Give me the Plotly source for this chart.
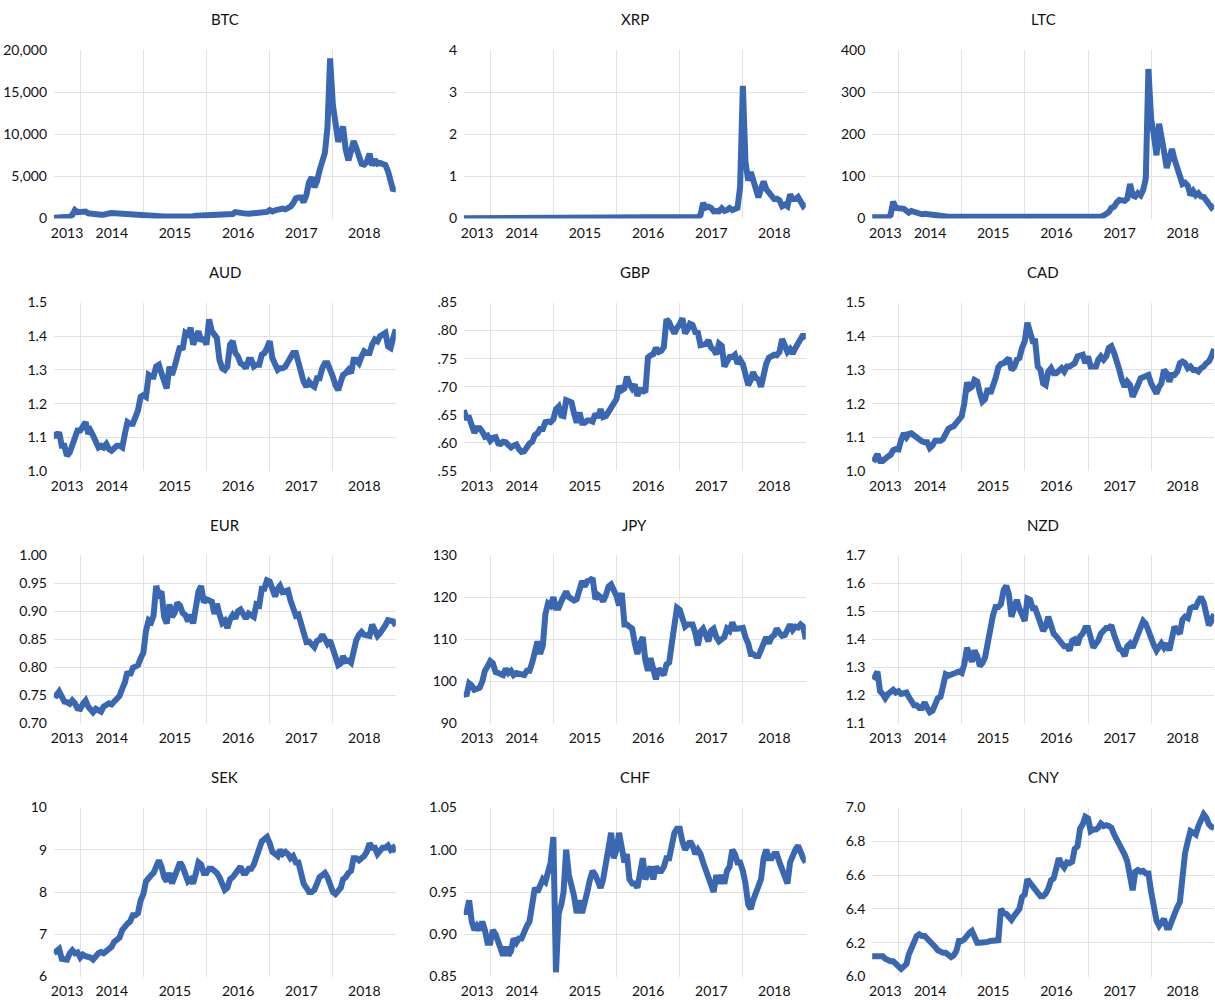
import pandas as pd
import plotly.graph_objects as go

FONT = "Lato, sans-serif"
TEXT = "#111111"
LINE_COLOR = "#3A67B1"
GRID_COLOR = "#E2E2E2"
W, H = 1215, 1000

# Semi-monthly observation dates, Aug 2013 .. Dec 2018
DATES = []
for year in range(2013, 2019):
    for month in range(1, 13):
        if year == 2013 and month < 8:
            continue
        for day in (1, 16):
            DATES.append(f"{year}-{month:02d}-{day:02d}")
DATES.append("2018-12-31")

X_START, X_END = "2013-08-01", "2018-12-31"
YEAR_LABELS = ["2013", "2014", "2015", "2016", "2017", "2018"]

BTC = [95, 100, 130, 125, 125, 150, 200, 420, 1000, 750,
       800, 850, 820, 620, 560, 620, 470, 520, 450, 450, 620, 600, 640, 620, 590, 500, 480, 470, 380, 390, 330, 390, 380, 330,
       315, 210, 225, 235, 255, 285, 245, 225, 235, 237, 225, 250, 260, 280, 280, 260, 230, 230, 237, 265, 320, 330, 360, 450,
       430, 380, 375, 405, 435, 415, 415, 430, 450, 455, 535, 760, 675, 665, 610, 580, 575, 610, 615, 640, 730, 745, 750, 780,
       1000, 830, 980, 1040, 1200, 1170, 1080, 1180, 1420, 1800, 2400, 2500, 2500, 1930, 2800, 4300, 4900, 3700, 4400, 5700, 6700, 7800, 10900, 19000,
       13500, 11300, 9100, 10200, 10900, 8200, 6900, 8000, 9200, 8400, 7500, 6500, 6400, 6700, 7700, 6300, 7000, 6500, 6600, 6500, 6350, 5600, 4100, 3300, 3750]

XRP = [0.006, 0.006, 0.005, 0.005, 0.005, 0.006, 0.007, 0.012, 0.030, 0.025,
       0.025, 0.024, 0.020, 0.020, 0.016, 0.015, 0.010, 0.007, 0.006, 0.006, 0.006, 0.006, 0.006, 0.005, 0.005, 0.005, 0.005, 0.005, 0.005, 0.005, 0.005, 0.010, 0.015, 0.025,
       0.024, 0.020, 0.016, 0.014, 0.013, 0.010, 0.010, 0.009, 0.008, 0.008, 0.008, 0.010, 0.010, 0.009, 0.008, 0.007, 0.007, 0.007, 0.007, 0.005, 0.004, 0.004, 0.006, 0.006,
       0.006, 0.006, 0.008, 0.008, 0.008, 0.008, 0.008, 0.008, 0.006, 0.006, 0.006, 0.006, 0.006, 0.006, 0.006, 0.006, 0.006, 0.006, 0.007, 0.008, 0.009, 0.007, 0.007, 0.006,
       0.0065, 0.0065, 0.0065, 0.0065, 0.006, 0.008, 0.030, 0.035, 0.080, 0.370, 0.260, 0.280, 0.250, 0.170, 0.180, 0.170, 0.240, 0.180, 0.200, 0.250, 0.200, 0.220, 0.250, 0.750,
       3.150, 1.350, 0.900, 1.100, 0.900, 0.700, 0.500, 0.700, 0.880, 0.700, 0.620, 0.520, 0.460, 0.470, 0.430, 0.290, 0.330, 0.290, 0.570, 0.460, 0.460, 0.510, 0.380, 0.300, 0.360]

LTC = [3.0, 2.9, 2.6, 2.5, 2.3, 2.3, 2.9, 8.0, 40.0, 25.0,
       24.0, 26.0, 23.0, 18.0, 14.0, 18.0, 15.0, 12.0, 11.0, 10.0, 11.0, 10.0, 8.0, 7.5, 7.5, 6.0, 5.0, 4.8, 3.8, 4.0, 4.0, 4.0, 4.2, 3.5,
       2.7, 1.8, 1.8, 1.8, 1.8, 2.2, 1.6, 1.4, 1.4, 1.5, 1.5, 1.8, 3.5, 4.5, 4.0, 3.0, 2.8, 2.9, 2.9, 3.1, 3.7, 3.2, 3.3, 3.5,
       3.5, 3.5, 3.2, 3.3, 3.2, 3.3, 3.2, 3.1, 3.6, 3.5, 4.6, 4.3, 4.2, 4.1, 4.0, 3.8, 3.8, 3.9, 3.8, 3.9, 3.9, 3.9, 3.9, 3.9,
       4.3, 3.9, 3.9, 3.8, 3.8, 4.0, 7.0, 11.0, 15.0, 25.0, 28.0, 38.0, 44.0, 43.0, 42.0, 47.0, 82.0, 55.0, 52.0, 60.0, 55.0, 68.0, 95.0, 355.0,
       235, 200, 150, 225, 200, 160, 120, 140, 165, 140, 120, 95, 82, 85, 78, 55, 65, 55, 60, 52, 51, 43, 33, 26, 32]

AUD = [1.115, 1.100, 1.115, 1.075, 1.075, 1.045, 1.055, 1.075, 1.095, 1.120,
       1.120, 1.135, 1.145, 1.110, 1.120, 1.105, 1.080, 1.070, 1.075, 1.070, 1.080, 1.065, 1.060, 1.070, 1.075, 1.075, 1.070, 1.110, 1.145, 1.140, 1.140, 1.160, 1.180, 1.220,
       1.225, 1.220, 1.285, 1.280, 1.280, 1.310, 1.315, 1.290, 1.260, 1.245, 1.310, 1.285, 1.310, 1.350, 1.370, 1.360, 1.410, 1.405, 1.425, 1.375, 1.400, 1.415, 1.385, 1.395,
       1.375, 1.450, 1.415, 1.400, 1.395, 1.330, 1.305, 1.300, 1.310, 1.375, 1.385, 1.350, 1.340, 1.320, 1.315, 1.305, 1.330, 1.330, 1.310, 1.315, 1.315, 1.345, 1.350, 1.365,
       1.385, 1.335, 1.315, 1.300, 1.305, 1.305, 1.310, 1.325, 1.335, 1.350, 1.350, 1.315, 1.300, 1.265, 1.250, 1.265, 1.255, 1.250, 1.275, 1.275, 1.305, 1.320, 1.320, 1.305,
       1.280, 1.255, 1.240, 1.265, 1.285, 1.290, 1.300, 1.290, 1.330, 1.330, 1.320, 1.340, 1.355, 1.350, 1.350, 1.375, 1.390, 1.385, 1.400, 1.405, 1.410, 1.370, 1.365, 1.395, 1.420]

GBP = [0.658, 0.645, 0.645, 0.628, 0.618, 0.626, 0.626, 0.620, 0.611, 0.613,
       0.604, 0.609, 0.610, 0.599, 0.598, 0.602, 0.601, 0.596, 0.592, 0.595, 0.597, 0.589, 0.584, 0.585, 0.593, 0.599, 0.602, 0.614, 0.617, 0.625, 0.625, 0.637, 0.638, 0.637,
       0.642, 0.660, 0.665, 0.649, 0.648, 0.676, 0.674, 0.672, 0.652, 0.636, 0.654, 0.636, 0.636, 0.640, 0.640, 0.638, 0.652, 0.645, 0.660, 0.646, 0.648, 0.656, 0.664, 0.670,
       0.678, 0.701, 0.694, 0.697, 0.718, 0.705, 0.697, 0.704, 0.684, 0.694, 0.694, 0.690, 0.752, 0.756, 0.758, 0.769, 0.762, 0.764, 0.771, 0.820, 0.815, 0.804, 0.795, 0.805,
       0.811, 0.822, 0.795, 0.802, 0.812, 0.810, 0.797, 0.796, 0.774, 0.775, 0.776, 0.783, 0.770, 0.766, 0.758, 0.777, 0.773, 0.736, 0.746, 0.753, 0.753, 0.757, 0.741, 0.748,
       0.740, 0.725, 0.703, 0.712, 0.726, 0.716, 0.713, 0.700, 0.726, 0.741, 0.752, 0.754, 0.757, 0.756, 0.762, 0.785, 0.771, 0.762, 0.767, 0.759, 0.769, 0.779, 0.784, 0.793, 0.785]

CAD = [1.040, 1.035, 1.050, 1.030, 1.030, 1.038, 1.043, 1.048, 1.062, 1.065,
       1.064, 1.092, 1.112, 1.100, 1.110, 1.112, 1.105, 1.100, 1.095, 1.088, 1.085, 1.085, 1.068, 1.075, 1.090, 1.088, 1.090, 1.095, 1.115, 1.125, 1.130, 1.133, 1.143, 1.155,
       1.162, 1.200, 1.263, 1.245, 1.250, 1.270, 1.265, 1.232, 1.206, 1.213, 1.245, 1.230, 1.248, 1.275, 1.308, 1.318, 1.320, 1.330, 1.335, 1.300, 1.308, 1.330, 1.335, 1.365,
       1.385, 1.440, 1.410, 1.385, 1.385, 1.310, 1.300, 1.260, 1.255, 1.295, 1.305, 1.290, 1.290, 1.300, 1.305, 1.295, 1.310, 1.310, 1.315, 1.320, 1.340, 1.345, 1.345, 1.320,
       1.340, 1.310, 1.310, 1.310, 1.330, 1.340, 1.330, 1.340, 1.365, 1.370, 1.350, 1.330, 1.300, 1.270, 1.250, 1.265, 1.255, 1.220, 1.245, 1.255, 1.275, 1.280, 1.285, 1.285,
       1.260, 1.245, 1.230, 1.250, 1.260, 1.300, 1.290, 1.265, 1.285, 1.285, 1.295, 1.320, 1.325, 1.320, 1.305, 1.310, 1.300, 1.300, 1.295, 1.305, 1.310, 1.320, 1.325, 1.340, 1.362]

EUR = [0.752, 0.750, 0.757, 0.749, 0.739, 0.738, 0.735, 0.741, 0.736, 0.727,
       0.726, 0.735, 0.741, 0.730, 0.724, 0.720, 0.726, 0.723, 0.721, 0.730, 0.734, 0.736, 0.734, 0.740, 0.746, 0.749, 0.762, 0.773, 0.792, 0.786, 0.799, 0.803, 0.804, 0.816,
       0.826, 0.865, 0.884, 0.881, 0.892, 0.945, 0.930, 0.935, 0.890, 0.878, 0.912, 0.890, 0.897, 0.915, 0.910, 0.897, 0.893, 0.882, 0.894, 0.878, 0.907, 0.935, 0.945, 0.916,
       0.921, 0.918, 0.917, 0.895, 0.913, 0.895, 0.879, 0.883, 0.870, 0.885, 0.893, 0.887, 0.900, 0.903, 0.895, 0.887, 0.896, 0.892, 0.890, 0.912, 0.910, 0.940, 0.940, 0.955,
       0.953, 0.940, 0.926, 0.940, 0.945, 0.934, 0.937, 0.937, 0.919, 0.905, 0.892, 0.894, 0.876, 0.867, 0.845, 0.846, 0.840, 0.836, 0.847, 0.849, 0.858, 0.848, 0.842, 0.848,
       0.834, 0.817, 0.804, 0.807, 0.820, 0.811, 0.812, 0.808, 0.829, 0.848, 0.858, 0.863, 0.858, 0.857, 0.856, 0.876, 0.863, 0.856, 0.861, 0.866, 0.875, 0.884, 0.883, 0.882, 0.874]

JPY = [97.5, 96.5, 99.5, 99.0, 98.0, 98.3, 98.5, 100.0, 102.5, 103.5,
       104.8, 104.3, 102.2, 102.0, 101.7, 101.5, 103.0, 102.0, 102.5, 101.5, 102.0, 101.8, 101.5, 101.5, 102.5, 102.5, 104.5, 107.5, 109.5, 106.5, 108.5, 116.0, 118.5, 118.0,
       120.0, 117.5, 117.5, 119.0, 119.8, 121.3, 120.0, 119.5, 119.2, 119.5, 121.5, 123.8, 122.5, 123.8, 124.0, 124.5, 119.5, 120.5, 120.0, 119.0, 120.5, 122.5, 123.0, 121.8,
       120.3, 118.0, 121.0, 113.5, 113.5, 113.0, 112.5, 109.0, 106.5, 109.0, 110.5, 105.0, 102.5, 105.5, 102.5, 100.5, 103.0, 102.0, 101.5, 104.0, 104.5, 109.0, 113.5, 117.5,
       117.0, 114.5, 113.0, 113.5, 113.5, 113.5, 111.5, 108.5, 111.8, 112.5, 111.0, 109.5, 112.0, 112.5, 110.5, 109.5, 110.0, 110.5, 112.5, 112.0, 114.0, 112.5, 112.5, 112.5,
       112.7, 110.5, 109.0, 106.5, 106.5, 106.0, 106.0, 107.5, 109.5, 110.5, 109.0, 110.5, 111.0, 112.5, 111.5, 110.8, 111.0, 112.0, 113.5, 112.2, 113.0, 112.8, 113.5, 113.0, 110.0]

NZD = [1.270, 1.265, 1.285, 1.215, 1.205, 1.190, 1.205, 1.215, 1.220, 1.210,
       1.215, 1.205, 1.210, 1.210, 1.195, 1.175, 1.165, 1.165, 1.155, 1.155, 1.175, 1.155, 1.140, 1.145, 1.175, 1.190, 1.195, 1.240, 1.275, 1.270, 1.275, 1.280, 1.285, 1.285,
       1.280, 1.310, 1.370, 1.335, 1.320, 1.360, 1.340, 1.305, 1.315, 1.335, 1.395, 1.425, 1.485, 1.515, 1.515, 1.525, 1.575, 1.590, 1.560, 1.480, 1.520, 1.540, 1.510, 1.490,
       1.465, 1.545, 1.540, 1.510, 1.510, 1.485, 1.450, 1.430, 1.445, 1.480, 1.450, 1.420, 1.410, 1.400, 1.390, 1.375, 1.375, 1.360, 1.395, 1.400, 1.380, 1.410, 1.420, 1.440,
       1.440, 1.400, 1.370, 1.385, 1.395, 1.420, 1.430, 1.440, 1.440, 1.450, 1.415, 1.380, 1.365, 1.360, 1.340, 1.375, 1.385, 1.370, 1.395, 1.420, 1.450, 1.465, 1.455, 1.425,
       1.410, 1.380, 1.360, 1.370, 1.385, 1.370, 1.385, 1.360, 1.410, 1.445, 1.430, 1.420, 1.470, 1.480, 1.475, 1.510, 1.515, 1.515, 1.535, 1.550, 1.530, 1.475, 1.450, 1.465, 1.490]

SEK = [6.55, 6.60, 6.65, 6.42, 6.42, 6.40, 6.55, 6.62, 6.55, 6.57,
       6.45, 6.52, 6.48, 6.48, 6.45, 6.40, 6.50, 6.55, 6.58, 6.55, 6.60, 6.65, 6.70, 6.82, 6.88, 6.92, 7.10, 7.20, 7.25, 7.30, 7.45, 7.45, 7.50, 7.80,
       7.95, 8.25, 8.35, 8.40, 8.45, 8.65, 8.75, 8.60, 8.35, 8.25, 8.45, 8.20, 8.40, 8.55, 8.70, 8.60, 8.35, 8.25, 8.30, 8.20, 8.45, 8.70, 8.65, 8.45,
       8.45, 8.55, 8.55, 8.50, 8.45, 8.35, 8.15, 8.05, 8.10, 8.30, 8.35, 8.45, 8.50, 8.60, 8.45, 8.45, 8.55, 8.55, 8.65, 8.80, 9.05, 9.20, 9.25, 9.30,
       9.15, 8.95, 8.90, 8.85, 9.00, 8.90, 8.95, 8.90, 8.80, 8.85, 8.70, 8.70, 8.45, 8.20, 8.10, 8.00, 8.00, 8.05, 8.20, 8.35, 8.40, 8.45, 8.35, 8.20,
       8.00, 7.95, 8.05, 8.10, 8.30, 8.35, 8.45, 8.50, 8.80, 8.80, 8.75, 8.80, 8.85, 8.95, 9.15, 9.05, 9.05, 8.90, 9.00, 9.05, 9.05, 9.10, 9.00, 9.05, 8.95]

CHF = [0.928, 0.925, 0.940, 0.915, 0.905, 0.910, 0.905, 0.915, 0.905, 0.890,
       0.890, 0.905, 0.900, 0.890, 0.880, 0.875, 0.885, 0.875, 0.880, 0.895, 0.890, 0.895, 0.895, 0.905, 0.910, 0.915, 0.935, 0.955, 0.950, 0.960, 0.965, 0.962, 0.975, 0.985,
       1.015, 0.855, 0.925, 0.935, 0.950, 1.000, 0.970, 0.960, 0.945, 0.925, 0.940, 0.925, 0.935, 0.950, 0.965, 0.975, 0.970, 0.960, 0.955, 0.965, 0.985, 1.010, 1.020, 0.990,
       1.000, 1.020, 0.995, 0.985, 0.995, 0.965, 0.960, 0.960, 0.955, 0.975, 0.990, 0.965, 0.975, 0.980, 0.965, 0.980, 0.975, 0.975, 0.980, 0.990, 0.990, 1.005, 1.020, 1.025,
       1.025, 1.010, 1.000, 1.005, 1.010, 1.005, 0.995, 1.000, 0.995, 0.985, 0.975, 0.965, 0.960, 0.950, 0.970, 0.960, 0.970, 0.960, 0.975, 0.980, 1.000, 0.995, 0.985, 0.985,
       0.975, 0.960, 0.935, 0.930, 0.940, 0.950, 0.955, 0.965, 0.990, 1.000, 0.990, 0.990, 0.995, 0.995, 0.985, 0.975, 0.970, 0.960, 0.985, 0.995, 1.000, 1.005, 0.995, 0.990, 0.985]

CNY = [6.120, 6.120, 6.120, 6.120, 6.120, 6.105, 6.095, 6.090, 6.090, 6.075,
       6.055, 6.045, 6.060, 6.075, 6.130, 6.170, 6.220, 6.240, 6.250, 6.240, 6.240, 6.225, 6.205, 6.200, 6.175, 6.155, 6.145, 6.140, 6.140, 6.125, 6.115, 6.125, 6.150, 6.210,
       6.210, 6.220, 6.250, 6.260, 6.270, 6.230, 6.200, 6.200, 6.200, 6.200, 6.205, 6.210, 6.210, 6.210, 6.215, 6.400, 6.375, 6.370, 6.355, 6.335, 6.360, 6.385, 6.400, 6.470,
       6.485, 6.575, 6.555, 6.530, 6.510, 6.500, 6.475, 6.475, 6.490, 6.520, 6.570, 6.580, 6.630, 6.700, 6.665, 6.645, 6.675, 6.670, 6.680, 6.755, 6.770, 6.875, 6.900, 6.945,
       6.935, 6.860, 6.870, 6.870, 6.880, 6.905, 6.890, 6.895, 6.890, 6.880, 6.840, 6.810, 6.790, 6.765, 6.720, 6.680, 6.580, 6.510, 6.620, 6.630, 6.620, 6.625, 6.610, 6.610,
       6.500, 6.410, 6.330, 6.300, 6.320, 6.340, 6.290, 6.290, 6.330, 6.380, 6.410, 6.440, 6.640, 6.730, 6.800, 6.860, 6.850, 6.840, 6.890, 6.920, 6.960, 6.940, 6.900, 6.885, 6.880]

# (title, series, y tick values, y tick labels)
PANELS = [
    ("BTC", BTC, [0, 5000, 10000, 15000, 20000], ["0", "5,000", "10,000", "15,000", "20,000"]),
    ("XRP", XRP, [0, 1, 2, 3, 4], ["0", "1", "2", "3", "4"]),
    ("LTC", LTC, [0, 100, 200, 300, 400], ["0", "100", "200", "300", "400"]),
    ("AUD", AUD, [1.0, 1.1, 1.2, 1.3, 1.4, 1.5], ["1.0", "1.1", "1.2", "1.3", "1.4", "1.5"]),
    ("GBP", GBP, [0.55, 0.60, 0.65, 0.70, 0.75, 0.80, 0.85], [".55", ".60", ".65", ".70", ".75", ".80", ".85"]),
    ("CAD", CAD, [1.0, 1.1, 1.2, 1.3, 1.4, 1.5], ["1.0", "1.1", "1.2", "1.3", "1.4", "1.5"]),
    ("EUR", EUR, [0.70, 0.75, 0.80, 0.85, 0.90, 0.95, 1.00], ["0.70", "0.75", "0.80", "0.85", "0.90", "0.95", "1.00"]),
    ("JPY", JPY, [90, 100, 110, 120, 130], ["90", "100", "110", "120", "130"]),
    ("NZD", NZD, [1.1, 1.2, 1.3, 1.4, 1.5, 1.6, 1.7], ["1.1", "1.2", "1.3", "1.4", "1.5", "1.6", "1.7"]),
    ("SEK", SEK, [6, 7, 8, 9, 10], ["6", "7", "8", "9", "10"]),
    ("CHF", CHF, [0.85, 0.90, 0.95, 1.00, 1.05], ["0.85", "0.90", "0.95", "1.00", "1.05"]),
    ("CNY", CNY, [6.0, 6.2, 6.4, 6.6, 6.8, 7.0], ["6.0", "6.2", "6.4", "6.6", "6.8", "7.0"]),
]

# plot-area pixel boxes for the 3 x 4 grid
COL_X = [(53.8, 395.8), (463.8, 805.8), (872.1, 1214.1)]
ROW_Y = [(50.0, 218.5), (302.5, 471.0), (555.0, 723.5), (807.5, 976.5)]

# year labels sit in the middle of the visible part of each year
t0, t1 = pd.Timestamp(X_START), pd.Timestamp(X_END)
bounds = [t0] + [pd.Timestamp(f"{y}-01-01") for y in range(2014, 2019)] + [t1]
LABEL_POS = [(bounds[i] + (bounds[i + 1] - bounds[i]) / 2).strftime("%Y-%m-%d %H:%M") for i in range(6)]
YEAR_STARTS = [f"{y}-01-01" for y in range(2014, 2019)]

fig = go.Figure()
annotations = []
layout_axes = {}

for k, (name, series, yvals, ylabels) in enumerate(PANELS):
    r, c = divmod(k, 3)
    sfx = "" if k == 0 else str(k + 1)
    x0, x1 = COL_X[c]
    ytop, ybot = ROW_Y[r]

    fig.add_trace(go.Scatter(
        x=DATES, y=series, mode="lines",
        line=dict(color=LINE_COLOR, width=6),
        xaxis="x" + sfx, yaxis="y" + sfx,
        showlegend=False, hoverinfo="skip",
    ))

    layout_axes["xaxis" + sfx] = dict(
        domain=[x0 / W, x1 / W], anchor="y" + sfx, type="date",
        range=[X_START, X_END], tickmode="array",
        tickvals=LABEL_POS, ticktext=YEAR_LABELS,
        showgrid=False, zeroline=False, showline=False, automargin=False,
        ticks="outside", ticklen=2, tickcolor="rgba(0,0,0,0)",
        tickfont=dict(family=FONT, size=14, color=TEXT),
        minor=dict(tickmode="array", tickvals=YEAR_STARTS, showgrid=True,
                   gridcolor=GRID_COLOR, gridwidth=1, ticks=""),
        fixedrange=True,
    )
    layout_axes["yaxis" + sfx] = dict(
        domain=[1 - ybot / H, 1 - ytop / H], anchor="x" + sfx,
        range=[yvals[0], yvals[-1]], tickmode="array",
        tickvals=yvals, ticktext=ylabels,
        showgrid=True, gridcolor=GRID_COLOR, gridwidth=1,
        zeroline=False, showline=False, automargin=False,
        ticks="outside", ticklen=3, tickcolor="rgba(0,0,0,0)",
        tickfont=dict(family=FONT, size=14, color=TEXT),
        fixedrange=True,
    )
    annotations.append(dict(
        text=name, xref="paper", yref="paper",
        x=(x0 + x1) / 2 / W, y=1 - (ytop - 30.5) / H,
        xanchor="center", yanchor="middle", showarrow=False,
        font=dict(family=FONT, size=15, color=TEXT),
    ))

fig.update_layout(
    width=W, height=H,
    margin=dict(l=0, r=0, t=0, b=0, pad=0),
    paper_bgcolor="white", plot_bgcolor="white",
    showlegend=False,
    annotations=annotations,
    **layout_axes,
)

fig.write_html("out.html")
